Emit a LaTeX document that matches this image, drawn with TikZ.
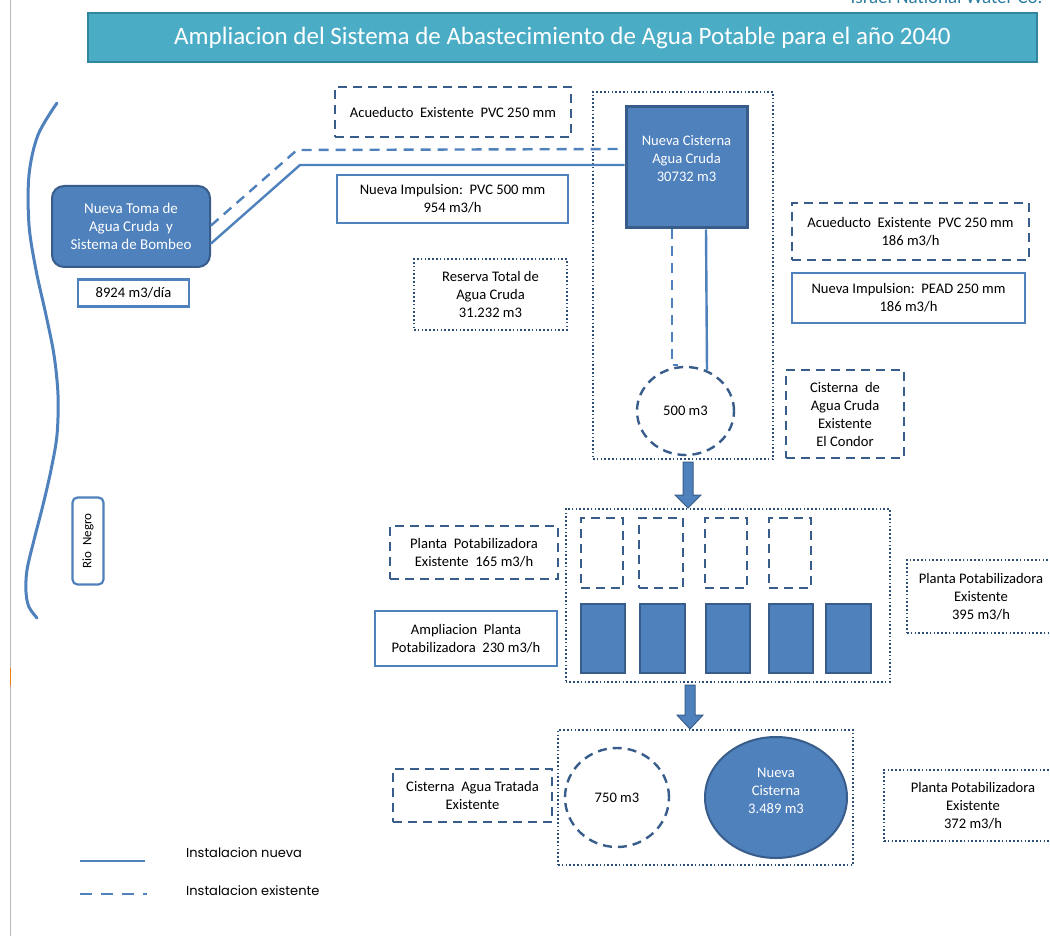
\documentclass[tikz,border=0pt]{standalone}
\usepackage{fontspec}
\setmainfont{Carlito}
\newfontfamily\legendfont{Poppins}
\usetikzlibrary{shapes.geometric,calc}
\definecolor{midblue}{HTML}{4F81BD}
\definecolor{dkblue}{HTML}{385D8A}
\definecolor{navy}{HTML}{2C4D75}
\definecolor{titlefill}{HTML}{4BACC6}
\definecolor{titledraw}{HTML}{31859C}
\tikzset{
  bx/.style={inner sep=0pt, align=center, text=black,
    font=\fontsize{14.6}{18}\selectfont},
  dashbox/.style={bx, draw=dkblue, line width=2.4pt, dash pattern=on 9pt off 6pt},
  newbox/.style={bx, draw=midblue, line width=2.2pt},
  dotbox/.style={bx, draw=navy, line width=2pt, dash pattern=on 1.6pt off 2.2pt},
  tank/.style={bx, fill=midblue, draw=dkblue, line width=2pt, text=white},
  pipenew/.style={draw=midblue, line width=2.4pt},
  pipeold/.style={draw=midblue, line width=2.4pt, dash pattern=on 10pt off 7pt},
  barrow/.style={fill=midblue, draw=dkblue, line width=1pt, line join=miter},
}
\begin{document}
\begin{tikzpicture}[x=1pt,y=-1pt]
\useasboundingbox (0,0) rectangle (1050,936);
\fill[white] (0,0) rectangle (1050,936);
% page edge line
\draw[gray!55, line width=1pt] (10,0) -- (10,936);
\draw[orange!70!brown, line width=1pt] (10,668) -- (10,686);
% header
\node[anchor=base east, text=dkblue!80!cyan, font=\fontsize{19}{21}\selectfont] (org) at (1046,4) {Israel National Water Co.};
\node[draw=titledraw, fill=titlefill, line width=2pt, minimum width=949pt, minimum height=49pt, inner sep=0pt, text=white, font=\fontsize{25}{28}\selectfont] (title) at (562.5,37.5) {Ampliacion del Sistema de Abastecimiento de Agua Potable para el año 2040};
% river
\draw[pipenew, line width=3pt, line cap=round] plot[smooth, tension=0.55] coordinates {(57,103) (38,135) (29,175) (29,225) (36,270) (46,315) (54,355) (58,395) (57,435) (51,470) (43,505) (34,540) (27,570) (26,592) (29,607) (37,618)};
\node[newbox, rounded corners=5pt, minimum width=31pt, minimum height=87pt, font=\fontsize{13}{15}\selectfont] (rio) at (88,541) {\rotatebox{90}{Rio\ \ Negro}};
% intake
\node[tank, rounded corners=12pt, minimum width=158pt, minimum height=81pt, font=\fontsize{15}{18}\selectfont] (toma) at (131,226.5) {Nueva Toma de\\Agua Cruda\ \ y\\Sistema de Bombeo};
\node[newbox, minimum width=111pt, minimum height=27pt] (flow) at (133.5,293) {8924 m3/día};
% labels top
\node[dashbox, minimum width=236pt, minimum height=50pt] (acu1) at (453,112) {Acueducto\ \ Existente\ \ PVC 250 mm};
\node[newbox, minimum width=231pt, minimum height=48pt] (imp1) at (452.5,199) {Nueva Impulsion:\ \ PVC 500 mm\\954 m3/h};
\node[dotbox, minimum width=153pt, minimum height=71pt] (reserva) at (490.5,294.5) {Reserva Total de\\Agua Cruda\\31.232 m3};
% raw water zone
\node[dotbox, minimum width=180pt, minimum height=367pt] (rawzone) at (683,275.5) {};
\node[tank, line width=3pt, minimum width=121pt, minimum height=121pt] (cist1) at (686.5,167.5) {Nueva Cisterna\\Agua Cruda\\30732 m3\\~};
\node[dashbox, ellipse, minimum width=97pt, minimum height=88pt] (t500) at (685.5,411) {500 m3};
% pipes
\coordinate (dA) at ($(toma.east)+(0,-1)$);
\coordinate (sA) at ($(toma.east)+(0,17)$);
\draw[pipeold] (dA) -- (297,150) -- (cist1.west |- 0,149);
\draw[pipenew] (sA) -- (300,165) -- (cist1.west |- 0,165);
\draw[pipeold] ($(cist1.south)+(-14.5,0)$) -- ($(t500.north)+(-13.5,-1)$) -- ($(t500.north)+(-8,-1)$);
\draw[pipenew] ($(cist1.south)+(19.5,0)$) -- ($(t500.north)+(21.5,4)$);
% right labels
\node[dashbox, minimum width=237pt, minimum height=57pt] (acu2) at (910.5,231.5) {Acueducto\ \ Existente\ \ PVC 250 mm\\186 m3/h};
\node[newbox, minimum width=233pt, minimum height=50pt] (imp2) at (908.5,298) {Nueva Impulsion:\ \ PEAD 250 mm\\186 m3/h};
\node[dashbox, minimum width=118pt, minimum height=88pt] (condor) at (845,414) {Cisterna\ \ de\\Agua Cruda\\Existente\\El Condor};
% treatment plant
\node[dotbox, minimum width=324pt, minimum height=173pt] (plant) at (727.5,595.5) {};
\foreach \n/\cx/\w in {1/602/42, 2/661/44, 3/726/42, 4/790/42}
  \node[dashbox, minimum width=\w pt, minimum height=70pt] (old\n) at (\cx,553) {};
\foreach \n/\cx/\w in {1/603/44, 2/662.5/45, 3/728/44, 4/791/44, 5/848.5/45}
  \node[tank, minimum width=\w pt, minimum height=69pt] (new\n) at (\cx,638.5) {};
\node[dashbox, minimum width=168pt, minimum height=53pt] (pp165) at (474,552.5) {Planta\ \ Potabilizadora\\Existente\ \ 165 m3/h};
\node[newbox, minimum width=182pt, minimum height=55pt] (amp230) at (466,638.5) {Ampliacion\ \ Planta\\Potabilizadora\ \ 230 m3/h};
\node[dotbox, minimum width=148pt, minimum height=73pt] (pp395) at (981,596.5) {Planta Potabilizadora\\Existente\\395 m3/h};
% block arrows
\coordinate (a1s) at (rawzone.south -| 688,0);
\coordinate (a1e) at (plant.north -| 688,0);
\draw[barrow] ($(a1s)+(-5,2)$) -- ($(a1s)+(5,2)$) -- ($(a1e)+(5,-13)$) -- ($(a1e)+(13,-13)$) -- (a1e) -- ($(a1e)+(-13,-13)$) -- ($(a1e)+(-5,-13)$) -- cycle;
% treated water zone
\node[dotbox, minimum width=295pt, minimum height=135pt] (tzone) at (705.5,797.5) {};
\coordinate (a2s) at (plant.south -| 690,0);
\coordinate (a2e) at (tzone.north -| 690,0);
\draw[barrow] ($(a2s)+(-5,2)$) -- ($(a2s)+(5,2)$) -- ($(a2e)+(5,-14)$) -- ($(a2e)+(13,-14)$) -- (a2e) -- ($(a2e)+(-13,-14)$) -- ($(a2e)+(-5,-14)$) -- cycle;
\node[dashbox, ellipse, minimum width=104pt, minimum height=99pt] (t750) at (617,797.5) {750 m3};
\node[tank, ellipse, minimum width=142pt, minimum height=121pt] (t3489) at (776,797.5) {Nueva\\Cisterna\\3.489 m3\\[-4pt]~};
\node[dashbox, minimum width=159pt, minimum height=53pt] (cat) at (472.5,795.5) {Cisterna\ \ Agua Tratada\\Existente};
\node[dotbox, minimum width=178pt, minimum height=71pt] (pp372) at (973,805.5) {Planta Potabilizadora\\Existente\\372 m3/h};
% legend
\coordinate (l1a) at (80,861); \coordinate (l1b) at (145,861);
\coordinate (l2a) at (80,894); \coordinate (l2b) at (147,894);
\draw[pipenew] (l1a) -- (l1b);
\draw[pipeold, dash pattern=on 12pt off 9pt] (l2a) -- (l2b);
\node[anchor=west, inner sep=0pt, font=\legendfont\fontsize{13}{15}\selectfont] (lg1) at (186,853) {Instalacion nueva};
\node[anchor=west, inner sep=0pt, font=\legendfont\fontsize{13}{15}\selectfont] (lg2) at (186,891) {Instalacion existente};
\end{tikzpicture}
\end{document}
